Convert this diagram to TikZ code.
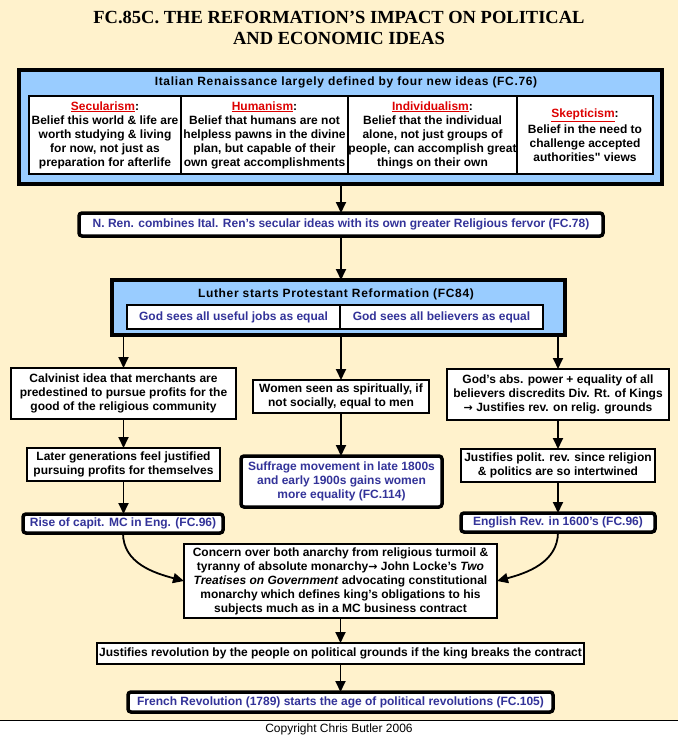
\documentclass[tikz,border=0pt]{standalone}
\usepackage{fontspec}
\setmainfont{Liberation Sans}
\newfontfamily\titlefont{Liberation Serif}
\newfontfamily\arrfont{DejaVu Sans}
\newfontfamily\qfont{Liberation Sans}[Ligatures=TeXOff]
\usetikzlibrary{arrows.meta,calc}
\definecolor{cream}{HTML}{FFF2CC}
\definecolor{skyfill}{HTML}{99CCFF}
\definecolor{navytext}{HTML}{333399}
\definecolor{redhead}{HTML}{DD0000}
\newcommand\hd[1]{\textcolor{redhead}{\underline{#1}}}
\newcommand\barr{{\arrfont\bfseries\fontsize{11}{14}\selectfont →}}
\newcommand\rbox[7]{\node[#2, minimum width={#5-#3}, minimum height={#6-#4}] (#1) at ({(#3+#5)/2},{(#4+#6)/2}) {#7};}
\tikzset{
  bodyfont/.style={font=\fontsize{12}{14}\selectfont\bfseries},
  headfont/.style={font=\fontsize{12}{14}\selectfont\bfseries\addfontfeature{LetterSpace=5.5}},
  box/.style={draw, line width=1.3pt, fill=white, align=center, inner sep=0pt, outer sep=0pt, bodyfont},
  bigbox/.style={draw, line width=3.5pt, rounded corners=3pt, fill=white, text=navytext, align=center, inner sep=0pt, outer sep=0pt, bodyfont},
  bluebox/.style={draw, line width=3.5pt, fill=skyfill, inner sep=0pt, outer sep=0pt},
  cell/.style={draw, line width=1.1pt, fill=white, align=center, inner sep=0pt, outer sep=0pt, bodyfont},
  bluecell/.style={cell, text=navytext},
  arr/.style={line width=1.8pt, -{Triangle[width=10pt,length=11pt]}},
}
\begin{document}
\begin{tikzpicture}[x=1pt,y=-1pt]
\useasboundingbox (0,0) rectangle (678,737);
\fill[cream] (0,0) rectangle (678,720);
\fill[white] (0,720) rectangle (678,737);
\draw[line width=1pt] (0,720) -- (678,720);

\node[font=\titlefont\bfseries\fontsize{18.5}{21}\selectfont, align=center] (title) at (339,28) {FC.85C. THE REFORMATION’S IMPACT ON POLITICAL\\AND ECONOMIC IDEAS};

% Italian Renaissance box
\rbox{ital}{bluebox}{19}{70}{662}{184}{}
\node[headfont] (italt) at (346,82) {Italian Renaissance largely defined by four new ideas (FC.76)};
\rbox{sec}{cell}{29}{96}{181}{174}{\hd{Secularism}:\\Belief this world \& life are\\worth studying \& living\\for now, not just as\\preparation for afterlife}
\rbox{hum}{cell}{181}{96}{348}{174}{\hd{Humanism}:\\Belief that humans are not\\helpless pawns in the divine\\plan, but capable of their\\own great accomplishments}
\rbox{ind}{cell}{348}{96}{517}{174}{\hd{Individualism}:\\Belief that the individual\\alone, not just groups of\\people, can accomplish great\\things on their own}
\rbox{skp}{cell}{517}{96}{653}{174}{\hd{Skepticism}:\\[2pt]Belief in the need to\\challenge accepted\\authorities{\qfont"} views}

% Northern Renaissance
\rbox{nren}{bigbox}{79}{213}{603}{236}{N. Ren. combines Ital. Ren’s secular ideas with its own greater Religious fervor (FC.78)}

% Luther box
\rbox{luther}{bluebox}{112}{280}{565}{335}{}
\node[headfont] (luthert) at (336,294) {Luther starts Protestant Reformation (FC84)};
\rbox{jobs}{bluecell}{127}{305}{340}{329}{God sees all useful jobs as equal}
\rbox{believers}{bluecell}{340}{305}{543}{329}{God sees all believers as equal}

% left column
\rbox{calvin}{box}{11}{368}{236}{419}{Calvinist idea that merchants are\\predestined to pursue profits for the\\good of the religious community}
\rbox{later}{box}{27}{448}{220}{481}{Later generations feel justified\\pursuing profits for themselves}
\rbox{rise}{bigbox}{23}{514}{223}{533}{Rise of capit. MC in Eng. (FC.96)}

% middle column
\rbox{women}{box}{253}{380}{429}{413}{Women seen as spiritually, if\\not socially, equal to men}
\rbox{suffrage}{bigbox}{241}{456}{442}{507}{Suffrage movement in late 1800s\\and early 1900s gains women\\more equality (FC.114)}

% right column
\rbox{gods}{box}{447}{369}{669}{420}{God’s abs. power + equality of all\\believers discredits Div. Rt. of Kings\\\barr{} Justifies rev. on relig. grounds}
\rbox{justpol}{box}{461}{449}{655}{482}{Justifies polit. rev. since religion\\\& politics are so intertwined}
\rbox{eng}{bigbox}{461}{513}{655}{532}{English Rev. in 1600’s (FC.96)}

% bottom
\rbox{concern}{box}{184}{544}{497}{618}{Concern over both anarchy from religious turmoil \&\\tyranny of absolute monarchy\barr{} John Locke’s \textit{Two}\\\textit{Treatises on Government} advocating constitutional\\monarchy which defines king’s obligations to his\\subjects much as in a MC business contract}
\rbox{justrev}{box}{97}{643}{584}{664}{Justifies revolution by the people on political grounds if the king breaks the contract}
\rbox{french}{bigbox}{128}{692}{553}{712}{French Revolution (1789) starts the age of political revolutions (FC.105)}

\node[font=\fontsize{12}{14}\selectfont] (copy) at (339,729) {Copyright Chris Butler 2006};

% connectors
\draw[arr] (ital.south -| nren.north) -- (nren.north);
\draw[arr] (nren.south) -- (nren.south |- luther.north);
\draw[arr] (luther.south -| calvin.north) -- (calvin.north);
\draw[arr] (luther.south -| women.north) -- (women.north);
\draw[arr] (luther.south -| gods.north) -- (gods.north);
\draw[arr] (calvin.south) -- (calvin.south |- later.north);
\draw[arr] (later.south) -- (later.south |- rise.north);
\draw[arr] (women.south) -- (women.south |- suffrage.north);
\draw[arr] (gods.south) -- (gods.south |- justpol.north);
\draw[arr] (justpol.south) -- (justpol.south |- eng.north);
\draw[arr] (rise.south) to[out=-90,in=165] (concern.west);
\draw[arr] (eng.south) to[out=-90,in=15] (concern.east);
\draw[arr] (concern.south) -- (concern.south |- justrev.north);
\draw[arr] (justrev.south) -- (justrev.south |- french.north);
\end{tikzpicture}
\end{document}
